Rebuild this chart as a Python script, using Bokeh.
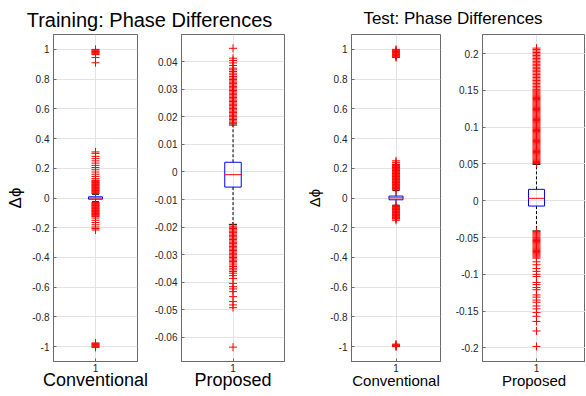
from bokeh.plotting import figure
from bokeh.layouts import column, row
from bokeh.models import Label, FixedTicker, PrintfTickFormatter, Range1d
from bokeh.embed import file_html
from bokeh.resources import INLINE

# ---------------- data ----------------
group_titles = ["Training: Phase Differences", "Test: Phase Differences"]
categories = ["Conventional", "Proposed", "Conventional", "Proposed"]
y_label = "\u0394\u03d5"

# box stats: [q1, median, q3], whiskers: [low, high]
train_conv_box = [-0.008, 0.0, 0.008]
train_conv_whiskers = [-0.025, 0.025]
train_conv_outliers = [
    1.0, 0.995, 0.99, 0.985, 0.98, 0.975, 0.97, 0.965, 0.945, 0.91,
    0.31, 0.30, 0.28, 0.265, 0.25, 0.235, 0.22, 0.205, 0.19, 0.175, 0.16, 0.145, 0.13,
    0.12, 0.115, 0.11, 0.105, 0.10, 0.095, 0.09, 0.085, 0.08, 0.075, 0.07, 0.065,
    0.06, 0.055, 0.05, 0.045, 0.04, 0.035, 0.03,
    -0.03, -0.035, -0.04, -0.045, -0.05, -0.055, -0.06, -0.065, -0.07, -0.075,
    -0.08, -0.085, -0.09, -0.095, -0.10, -0.105, -0.11, -0.115, -0.12, -0.125,
    -0.135, -0.15, -0.165, -0.18, -0.195, -0.205, -0.215,
    -0.975, -0.98, -0.985, -0.99, -0.995, -1.0, -1.005,
]

train_prop_box = [-0.0055, -0.001, 0.0035]
train_prop_whiskers = [-0.019, 0.017]
train_prop_outliers = [
    0.0448, 0.0412, 0.0404, 0.0395, 0.0386, 0.0376, 0.0370, 0.0364, 0.0358, 0.0352,
    0.0346, 0.0340, 0.0335, 0.0330, 0.0325, 0.0320, 0.0315, 0.0310, 0.0305, 0.0300,
    0.0295, 0.0290, 0.0285, 0.0280, 0.0275, 0.0270, 0.0265, 0.0260, 0.0255, 0.0250,
    0.0245, 0.0240, 0.0235, 0.0230, 0.0225, 0.0220, 0.0215, 0.0210, 0.0205, 0.0200,
    0.0195, 0.0190, 0.0185, 0.0180, 0.0176,
    -0.0196, -0.0200, -0.0205, -0.0210, -0.0215, -0.0220, -0.0225, -0.0230, -0.0235,
    -0.0240, -0.0245, -0.0250, -0.0255, -0.0260, -0.0265, -0.0270, -0.0275, -0.0280,
    -0.0285, -0.0290, -0.0295, -0.0300, -0.0305, -0.0310, -0.0315, -0.0320, -0.0325,
    -0.0330, -0.0337, -0.0343, -0.0349, -0.0355, -0.0361, -0.0367, -0.0376, -0.0386,
    -0.0404, -0.0416, -0.0424, -0.0434, -0.0452, -0.0470, -0.0482, -0.0492, -0.0635,
]

test_conv_box = [-0.012, 0.001, 0.013]
test_conv_whiskers = [-0.048, 0.05]
test_conv_outliers = [
    1.0, 0.995, 0.99, 0.985, 0.98, 0.975, 0.97, 0.965, 0.96, 0.955, 0.95, 0.945,
    0.25, 0.24, 0.228, 0.225, 0.22, 0.215, 0.21, 0.205, 0.20, 0.195, 0.19, 0.185,
    0.18, 0.175, 0.17, 0.165, 0.16, 0.155, 0.15, 0.145, 0.14, 0.135, 0.13, 0.125,
    0.12, 0.115, 0.11, 0.105, 0.10, 0.095, 0.09, 0.085, 0.08, 0.075, 0.07, 0.065,
    0.06, 0.055,
    -0.052, -0.057, -0.062, -0.067, -0.072, -0.077, -0.082, -0.087, -0.092, -0.097,
    -0.102, -0.107, -0.112, -0.117, -0.122, -0.127, -0.132, -0.137, -0.141, -0.15,
    -0.983, -0.988, -0.993, -0.998, -1.0,
]

test_prop_box = [-0.0072, 0.0033, 0.0155]
test_prop_whiskers = [-0.041, 0.0495]
test_prop_outliers = [
    0.2075, 0.2055, 0.2035, 0.2015, 0.1995, 0.1975, 0.1955, 0.1935, 0.1915, 0.1895,
    0.1875, 0.1855, 0.1835, 0.1815, 0.1795, 0.1775, 0.1755, 0.1735, 0.1715, 0.1695,
    0.1675, 0.1655, 0.1635, 0.1615, 0.1595, 0.1575, 0.1555, 0.1535, 0.1515, 0.1495,
    0.1480, 0.1465, 0.1450, 0.1435, 0.1420, 0.1405, 0.1390, 0.1375, 0.1360, 0.1345,
    0.1330, 0.1315, 0.1300, 0.1285, 0.1270, 0.1255, 0.1240, 0.1225, 0.1210, 0.1195,
    0.1180, 0.1165, 0.1150, 0.1135, 0.1120, 0.1105, 0.1090, 0.1075, 0.1060, 0.1045,
    0.1030, 0.1015, 0.1000, 0.0985, 0.0970, 0.0955, 0.0940, 0.0925, 0.0910, 0.0895,
    0.0880, 0.0865, 0.0850, 0.0835, 0.0820, 0.0805, 0.0790, 0.0775, 0.0760, 0.0745,
    0.0730, 0.0715, 0.0700, 0.0685, 0.0670, 0.0655, 0.0640, 0.0625, 0.0610, 0.0595,
    0.0580, 0.0565, 0.0550, 0.0535, 0.0520, 0.0505,
    -0.0420, -0.0435, -0.0450, -0.0465, -0.0480, -0.0495, -0.0510, -0.0525, -0.0540,
    -0.0555, -0.0570, -0.0585, -0.0600, -0.0615, -0.0630, -0.0645, -0.0660, -0.0675,
    -0.0690, -0.0705, -0.0720, -0.0735, -0.0750, -0.0765,
    -0.078, -0.083, -0.087, -0.092, -0.096, -0.100, -0.103, -0.111, -0.114, -0.118,
    -0.121, -0.128, -0.131, -0.135, -0.138, -0.143, -0.147, -0.152, -0.157, -0.164,
    -0.177, -0.198,
]

conv_yticks = [-1, -0.8, -0.6, -0.4, -0.2, 0, 0.2, 0.4, 0.6, 0.8, 1]
train_prop_yticks = [-0.06, -0.05, -0.04, -0.03, -0.02, -0.01, 0, 0.01, 0.02, 0.03, 0.04]
test_prop_yticks = [-0.2, -0.15, -0.1, -0.05, 0, 0.05, 0.1, 0.15, 0.2]
x_ticks = [1]

FONT = "Liberation Sans"
TXT = "#262626"
FRAME = "#6a6a6a"
GRID = "#e3e3e3"
TITLE_H = 33
PANEL_H = 362


def make_panel(xlabel, box, whiskers, outliers, yticks, yrange, xrange,
               border_l, frame_w, border_r, box_w, xlabel_size, xlabel_standoff,
               ylabel=None, ylabel_size="17px"):
    p = figure(output_backend="svg", toolbar_location=None, title=None,
               x_range=Range1d(*xrange), y_range=Range1d(*yrange),
               frame_width=frame_w, height=PANEL_H,
               min_border_left=border_l, min_border_right=border_r,
               min_border_top=1, min_border_bottom=34,
               background_fill_color="white", border_fill_color="white")
    p.outline_line_color = FRAME
    p.outline_line_width = 1
    x0 = x_ticks[0]
    q1, med, q3 = box
    wlo, whi = whiskers
    # whiskers
    p.segment(x0=[x0, x0], y0=[q3, q1], x1=[x0, x0], y1=[whi, wlo],
              line_color="black", line_width=1, line_dash="3 2")
    p.segment(x0=[x0 - box_w / 4] * 2, y0=[whi, wlo], x1=[x0 + box_w / 4] * 2,
              y1=[whi, wlo], line_color="black", line_width=1)
    # box
    p.quad(left=[x0 - box_w / 2], right=[x0 + box_w / 2], bottom=[q1], top=[q3],
           fill_color=None, line_color="#0000ff", line_width=1)
    p.segment(x0=[x0 - box_w / 2], y0=[med], x1=[x0 + box_w / 2], y1=[med],
              line_color="#ff0000", line_width=1)
    # outliers
    p.scatter(x=[x0] * len(outliers), y=outliers, marker="cross", size=8,
              line_color="#ff0000", line_width=1)

    p.xgrid.ticker = FixedTicker(ticks=x_ticks)
    p.ygrid.ticker = FixedTicker(ticks=yticks)
    p.grid.grid_line_color = GRID
    p.grid.grid_line_width = 1

    p.xaxis.ticker = FixedTicker(ticks=x_ticks)
    p.yaxis.ticker = FixedTicker(ticks=yticks)
    p.xaxis.formatter = PrintfTickFormatter(format="%g")
    p.yaxis.formatter = PrintfTickFormatter(format="%g")
    for ax in (p.xaxis, p.yaxis):
        ax.major_tick_in = 3
        ax.major_tick_out = 0
        ax.minor_tick_line_color = None
        ax.axis_line_color = FRAME
        ax.major_tick_line_color = FRAME
        ax.major_label_text_font = FONT
        ax.major_label_text_font_size = "10px"
        ax.major_label_text_color = TXT
        ax.axis_label_text_font = FONT
        ax.axis_label_text_font_style = "normal"
        ax.axis_label_text_color = "black"
    p.xaxis.major_label_standoff = 2
    p.yaxis.major_label_standoff = 4
    p.xaxis.axis_label = xlabel
    p.xaxis.axis_label_text_font_size = xlabel_size
    p.xaxis.axis_label_standoff = xlabel_standoff
    if ylabel:
        p.yaxis.axis_label = ylabel
        p.yaxis.axis_label_text_font_size = ylabel_size
        p.yaxis.axis_label_standoff = 4
    return p


p1 = make_panel(categories[0], train_conv_box, train_conv_whiskers, train_conv_outliers,
                conv_yticks, (-1.1, 1.1), (0.5, 1.5), 53, 84, 13, 0.167, "18px", -5,
                ylabel=y_label, ylabel_size="17px")
p2 = make_panel(categories[1], train_prop_box, train_prop_whiskers, train_prop_outliers,
                train_prop_yticks, (-0.0687, 0.0498), (0.5, 1.5), 31, 103, 16, 0.16,
                "18px", -5)
p3 = make_panel(categories[2], test_conv_box, test_conv_whiskers, test_conv_outliers,
                conv_yticks, (-1.1, 1.1), (0.5, 1.5), 51, 89, 4, 0.157, "15px", -3,
                ylabel=y_label, ylabel_size="15px")
p4 = make_panel(categories[3], test_prop_box, test_prop_whiskers, test_prop_outliers,
                test_prop_yticks, (-0.2185, 0.226), (0.5, 1.454), 38, 103, 0, 0.148,
                "15px", -3)

# title strip
t = figure(output_backend="svg", toolbar_location=None, width=585, height=TITLE_H,
           title=None, x_range=Range1d(0, 585), y_range=Range1d(0, TITLE_H),
           min_border=0, x_axis_location=None, y_axis_location=None)
t.outline_line_color = None
t.grid.visible = False
t.add_layout(Label(x=149, y=13.5, text=group_titles[0], text_align="center",
                   text_baseline="alphabetic", text_font=FONT,
                   text_font_size="20px", text_color="black"))
t.add_layout(Label(x=452.5, y=15.5, text=group_titles[1], text_align="center",
                   text_baseline="alphabetic", text_font=FONT,
                   text_font_size="17px", text_color="black"))

layout = column(t, row(p1, p2, p3, p4, spacing=0), spacing=0)

with open("out.html", "w") as f:
    f.write(file_html(layout, INLINE))
